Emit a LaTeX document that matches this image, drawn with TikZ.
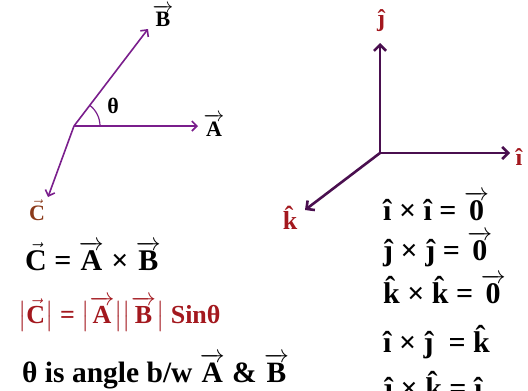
\documentclass[tikz,border=0pt]{standalone}
\usepackage{amsmath}
\usepackage{xcolor}
\usepackage{fontspec}
\setmainfont{Liberation Serif}
\usetikzlibrary{arrows.meta}
\definecolor{vecpurple}{HTML}{7A1E8C}
\definecolor{axpurple}{HTML}{4A0F4F}
\definecolor{unitred}{HTML}{A3181E}
\definecolor{cbrown}{HTML}{8B3A1A}
\newcommand{\vect}[1]{\ensuremath{\overrightarrow{\text{#1}}}}
\newcommand{\svect}[1]{\ensuremath{\vec{\text{#1}}}}
\newcommand{\khat}{k̂}

\begin{document}
\begin{tikzpicture}[x=1pt,y=-1pt,
    vecarrow/.style={vecpurple, line width=1.6pt, -{Straight Barb[length=5pt,width=10pt]}},
    axarrow/.style={axpurple, line width=2.6pt, -{Straight Barb[length=6pt,width=12pt]}},
    lbl/.style={font=\fontsize{22}{26}\selectfont\bfseries, inner sep=0pt},
    eqn/.style={font=\fontsize{30}{32}\selectfont\bfseries, anchor=base west, inner sep=0pt}]
  \useasboundingbox (0,0) rectangle (528,391);
  \clip (0,0) rectangle (528,391);

  % vectors A, B and C = A x B
  \coordinate (O) at (74,126);
  \coordinate (Atip) at (198,126);
  \coordinate (Btip) at (148,29);
  \coordinate (Ctip) at (48,197);
  \draw[vecarrow] (O) -- (Atip);
  \draw[vecarrow] (O) -- (Btip);
  \draw[vecarrow] (O) -- (Ctip);
  \draw[vecpurple, line width=1.2pt] ([xshift=26pt]O) arc[start angle=0, end angle=52.6, radius=26pt];
  \node[lbl] (theta) at (113,106) {θ};
  \node[lbl] (Alab) at (214,125) {\vect{A}};
  \node[lbl] (Blab) at (163,16) {\vect{B}};
  \node[lbl, text=cbrown] (Clab) at (37,210) {\svect{C}};

  % unit vectors
  \coordinate (P) at (380,153);
  \coordinate (itip) at (510,153);
  \coordinate (jtip) at (380,43);
  \coordinate (ktip) at (305,210);
  \draw[axarrow] (P) -- (itip);
  \draw[axarrow] (P) -- (jtip);
  \draw[axarrow] (P) -- (ktip);
  \node[lbl, text=unitred, font=\fontsize{24}{26}\selectfont\bfseries] (ilab) at (519,157) {î};
  \node[lbl, text=unitred, font=\fontsize{24}{26}\selectfont\bfseries] (jlab) at (381,21) {ĵ};
  \node[lbl, text=unitred, font=\fontsize{26}{28}\selectfont\bfseries] (klab) at (290,218) {\khat};

  % relations
  \node[eqn] (eq1) at (25,270) {\svect{C} = \vect{A} × \vect{B}};
  \node[eqn, text=unitred, font=\fontsize{26}{28}\selectfont\bfseries] (eq2) at (18,323)
    {$\bigl|$\svect{C}$\bigr|$ = $\bigl|$\vect{A}$\bigr|\bigl|$\vect{B}$\bigr|$ Sinθ};
  \node[eqn, font=\fontsize{29.5}{32}\selectfont\bfseries] (eq3) at (22,382) {θ is angle b/w \vect{A} \& \vect{B}};
  \node[eqn] (eq4) at (383,220) {î × î =\ \vect{0}};
  \node[eqn] (eq5) at (383,260) {ĵ × ĵ = \vect{0}};
  \node[eqn] (eq6) at (383,303) {\khat{} × \khat{} = \vect{0}};
  \node[eqn] (eq7) at (383,352) {î × ĵ \ = \khat};
  \node[eqn] (eq8) at (383,398) {ĵ × \khat{} = î};
\end{tikzpicture}
\end{document}
